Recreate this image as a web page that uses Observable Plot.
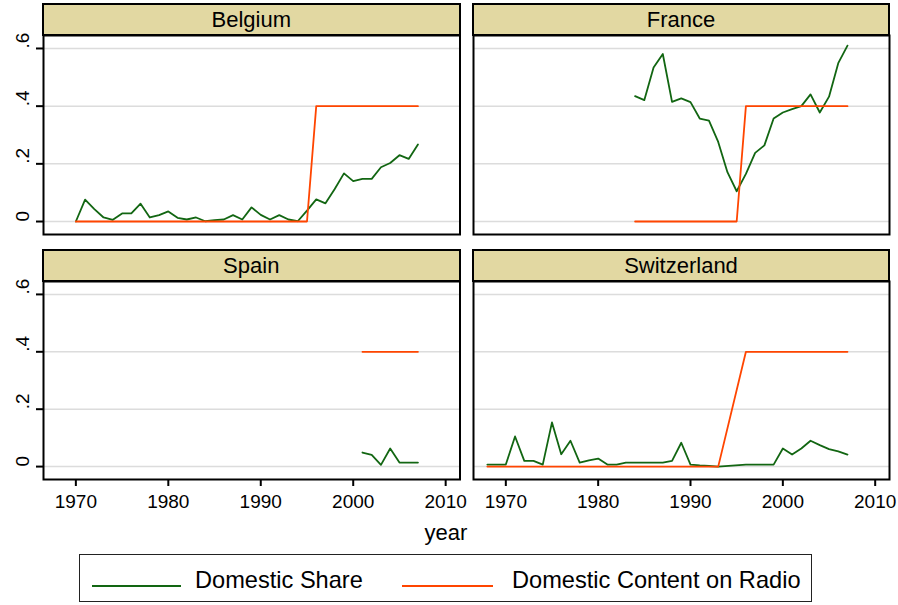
<!DOCTYPE html>
<html>
<head>
<meta charset="utf-8">
<script src="https://cdn.jsdelivr.net/npm/d3@7"></script>
<script src="https://cdn.jsdelivr.net/npm/@observablehq/plot@0.6"></script>
<style>
  body { margin: 0; background: #fff; font-family: "Liberation Sans", Arial, sans-serif; }
  #fig { position: relative; width: 898px; height: 605px; background: #fff; overflow: hidden; }
  .strip { position: absolute; background: #e2d8a2; border: 2px solid #000; box-sizing: border-box;
           display: flex; align-items: center; justify-content: center; font-size: 22px; color: #000; }
  .panel { position: absolute; }
  .panel svg { overflow: visible; }
  .panel svg text { font-size: 19px !important; fill: #000; }
  #xlabel { position: absolute; font-size: 22px; color: #000; }
  #legend { position: absolute; border: 1.5px solid #222; box-sizing: border-box; background: #fff; }
  .lg-line { position: absolute; height: 0; border-top: 2px solid; }
  .lg-text { position: absolute; font-size: 23.6px; color: #000; line-height: 1; white-space: nowrap; }
</style>
</head>
<body>
<div id="fig"></div>
<script>
// ---------------- data ----------------
const countries = ["Belgium", "France", "Spain", "Switzerland"];
const seriesNames = ["Domestic Share", "Domestic Content on Radio"];
const seriesColors = ["#126612", "#ff4500"];
const xTicks = [1970, 1980, 1990, 2000, 2010];
const yTicks = [0, 0.2, 0.4, 0.6];
const yTickLabels = ["0", ".2", ".4", ".6"];
const xLabel = "year";

const belgiumYears = [1970,1971,1972,1973,1974,1975,1976,1977,1978,1979,1980,1981,1982,1983,1984,1985,1986,1987,1988,1989,1990,1991,1992,1993,1994,1995,1996,1997,1998,1999,2000,2001,2002,2003,2004,2005,2006,2007];
const belgiumShare = [0,0.076,0.043,0.014,0.006,0.028,0.028,0.062,0.014,0.022,0.035,0.013,0.007,0.014,0.001,0.005,0.007,0.022,0.007,0.049,0.023,0.007,0.022,0.007,0.001,0.038,0.077,0.063,0.113,0.167,0.14,0.148,0.148,0.188,0.203,0.23,0.217,0.267];
const belgiumRadio = [0,0,0,0,0,0,0,0,0,0,0,0,0,0,0,0,0,0,0,0,0,0,0,0,0,0,0.4,0.4,0.4,0.4,0.4,0.4,0.4,0.4,0.4,0.4,0.4,0.4];

const franceYears = [1984,1985,1986,1987,1988,1989,1990,1991,1992,1993,1994,1995,1996,1997,1998,1999,2000,2001,2002,2003,2004,2005,2006,2007];
const franceShare = [0.435,0.421,0.534,0.581,0.415,0.427,0.414,0.357,0.35,0.276,0.171,0.105,0.165,0.238,0.264,0.357,0.378,0.39,0.4,0.441,0.378,0.433,0.549,0.61];
const franceRadio = [0,0,0,0,0,0,0,0,0,0,0,0,0.4,0.4,0.4,0.4,0.4,0.4,0.4,0.4,0.4,0.4,0.4,0.4];

const spainYears = [2001,2002,2003,2004,2005,2006,2007];
const spainShare = [0.049,0.041,0.006,0.063,0.014,0.014,0.014];
const spainRadio = [0.4,0.4,0.4,0.4,0.4,0.4,0.4];

const switzerlandYears = [1968,1969,1970,1971,1972,1973,1974,1975,1976,1977,1978,1979,1980,1981,1982,1983,1984,1985,1986,1987,1988,1989,1990,1991,1992,1993,1996,1997,1998,1999,2000,2001,2002,2003,2004,2005,2006,2007];
const switzerlandShare = [0.007,0.007,0.007,0.105,0.02,0.02,0.007,0.154,0.043,0.09,0.014,0.022,0.028,0.007,0.007,0.014,0.014,0.014,0.014,0.014,0.02,0.083,0.007,0.004,0.002,0,0.007,0.007,0.007,0.007,0.063,0.042,0.063,0.09,0.075,0.061,0.053,0.042];
const switzerlandRadio = [0,0,0,0,0,0,0,0,0,0,0,0,0,0,0,0,0,0,0,0,0,0,0,0,0,0,0.4,0.4,0.4,0.4,0.4,0.4,0.4,0.4,0.4,0.4,0.4,0.4];

// ---------------- build ----------------
const panelData = {
  Belgium: [belgiumYears, belgiumShare, belgiumRadio],
  France: [franceYears, franceShare, franceRadio],
  Spain: [spainYears, spainShare, spainRadio],
  Switzerland: [switzerlandYears, switzerlandShare, switzerlandRadio]
};

const fig = document.getElementById("fig");
const colX = [[43, 459.5], [473, 889]];
const rowY = [[35, 234], [281, 479]];
const stripH = 31;
const xDomain = [1966.5, 2011.55];
const yDomain = [-0.045, 0.645];

countries.forEach((name, i) => {
  const col = i % 2, row = Math.floor(i / 2);
  const [x0, x1] = colX[col];
  const [y0, y1] = rowY[row];
  const showY = col === 0, showX = row === 1;
  const mL = showY ? 43 : 2, mR = 2, mT = 2, mB = showX ? 40 : 2;
  const [yrs, share, radio] = panelData[name];
  const rows = [];
  yrs.forEach((y, k) => {
    rows.push({year: y, value: share[k], series: seriesNames[0]});
  });
  yrs.forEach((y, k) => {
    rows.push({year: y, value: radio[k], series: seriesNames[1]});
  });

  const marks = [
    Plot.ruleY(yTicks, {stroke: "#dcdcdc", strokeWidth: 1.5}),
    Plot.line(rows, {x: "year", y: "value", z: "series", stroke: "series", strokeWidth: 1.8}),
    Plot.frame({stroke: "#000", strokeWidth: 2})
  ];
  if (showY) {
    marks.push(Plot.axisY({ticks: yTicks, tickSize: 7, tickFormat: () => "", strokeWidth: 2, stroke: "#000"}));
    marks.push(Plot.text(yTicks, {y: d => d, text: (d, k) => yTickLabels[k], frameAnchor: "left", dx: -21,
      rotate: -90, fontSize: 19, fill: "#000"}));
  } else {
    marks.push(Plot.axisY({ticks: []}));
  }
  if (showX) {
    marks.push(Plot.axisX({ticks: xTicks, tickSize: 7, tickPadding: 8, tickFormat: d => String(d),
      fontSize: 19, strokeWidth: 2, stroke: "#000", fill: "#000"}));
  } else {
    marks.push(Plot.axisX({ticks: []}));
  }

  const svg = Plot.plot({
    width: (x1 - x0) + mL + mR,
    height: (y1 - y0) + mT + mB,
    marginLeft: mL, marginRight: mR, marginTop: mT, marginBottom: mB,
    style: {background: "transparent", fontFamily: "'Liberation Sans', Arial, sans-serif", color: "#000", fontSize: "19px"},
    x: {domain: xDomain, label: null},
    y: {domain: yDomain, label: null},
    color: {domain: seriesNames, range: seriesColors},
    marks
  });
  const wrap = document.createElement("div");
  wrap.className = "panel";
  wrap.style.left = (x0 - mL) + "px";
  wrap.style.top = (y0 - mT) + "px";
  wrap.appendChild(svg);
  fig.appendChild(wrap);

  const strip = document.createElement("div");
  strip.className = "strip";
  strip.style.left = (x0 - 1) + "px";
  strip.style.top = (y0 - stripH - 1) + "px";
  strip.style.width = (x1 - x0 + 2) + "px";
  strip.style.height = (stripH + 2) + "px";
  strip.textContent = name;
  fig.appendChild(strip);
});

// x label
const xl = document.createElement("div");
xl.id = "xlabel";
xl.textContent = xLabel;
fig.appendChild(xl);
xl.style.left = (446 - xl.offsetWidth / 2) + "px";
xl.style.top = (533 - xl.offsetHeight / 2) + "px";

// legend
const lg = document.createElement("div");
lg.id = "legend";
lg.style.left = "79px"; lg.style.top = "554px"; lg.style.width = "733px"; lg.style.height = "48px";
fig.appendChild(lg);
const lgItems = [
  {lineX: 12, lineW: 89, textX: 115},
  {lineX: 322, lineW: 91, textX: 432}
];
seriesNames.forEach((s, k) => {
  const ln = document.createElement("div");
  ln.className = "lg-line";
  ln.style.left = lgItems[k].lineX + "px";
  ln.style.width = lgItems[k].lineW + "px";
  ln.style.top = "30px";
  ln.style.borderTopColor = seriesColors[k];
  lg.appendChild(ln);
  const tx = document.createElement("div");
  tx.className = "lg-text";
  tx.textContent = s;
  tx.style.left = lgItems[k].textX + "px";
  tx.style.top = "14px";
  lg.appendChild(tx);
});
</script>
</body>
</html>
